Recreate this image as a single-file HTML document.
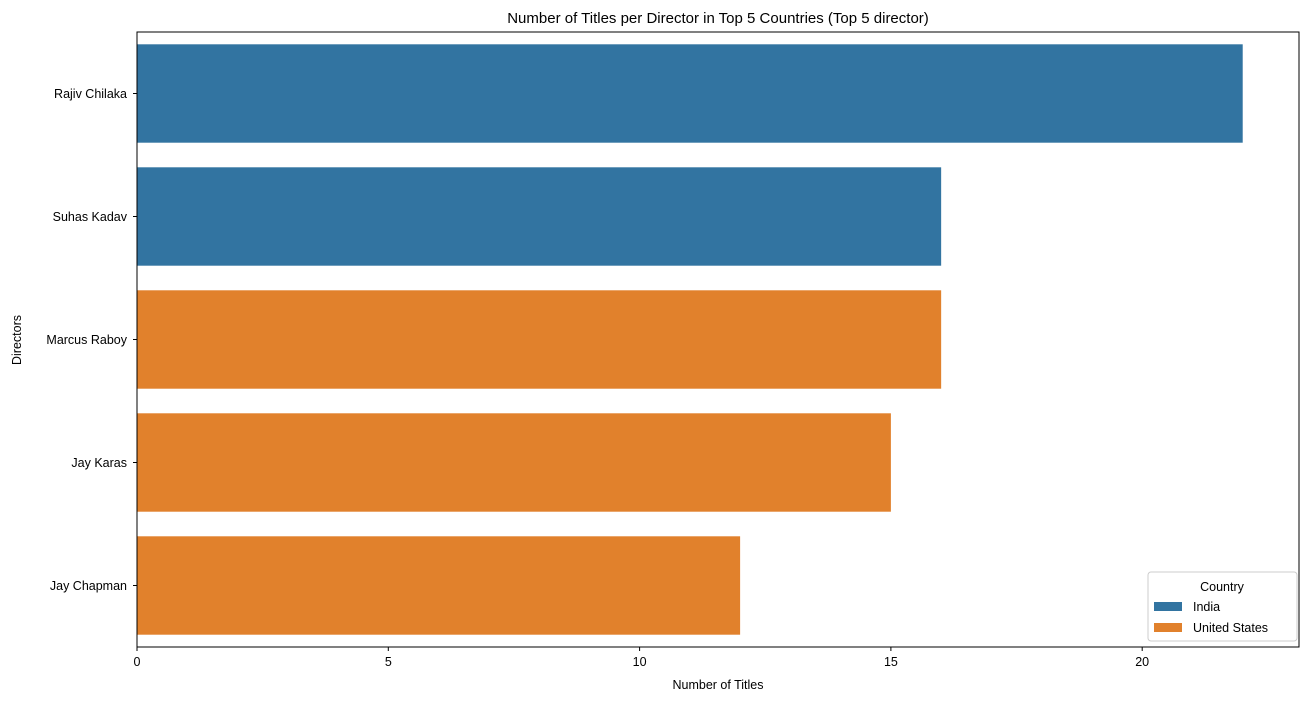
<!DOCTYPE html>
<html><head><meta charset="utf-8"><style>
body{margin:0;background:#fff;}
svg text{font-family:"Liberation Sans","DejaVu Sans",sans-serif;fill:#000;}
</style></head><body>
<svg id="chart" width="1309" height="701" xmlns="http://www.w3.org/2000/svg">
<text x="718" y="23" font-size="15" text-anchor="middle">Number of Titles per Director in Top 5 Countries (Top 5 director)</text>
<g id="bars"></g>
<g id="axes"></g>
<text x="718" y="689" font-size="12.5" text-anchor="middle">Number of Titles</text>
<text x="21" y="340" font-size="12.5" text-anchor="middle" transform="rotate(-90 21 340)">Directors</text>
<g>
<rect x="1148" y="572" width="149" height="69" rx="3" fill="#fff" fill-opacity="0.8" stroke="#ccc"/>
<text x="1222" y="591" font-size="12.5" text-anchor="middle">Country</text>
<g><rect x="1154" y="602" width="28" height="9" fill="#3274a1"/><text x="1193" y="611" font-size="12.5">India</text></g>
<g><rect x="1154" y="623" width="28" height="9" fill="#e1812c"/><text x="1193" y="632" font-size="12.5">United States</text></g>
</g>
</svg>
<script>
const directors=["Rajiv Chilaka","Suhas Kadav","Marcus Raboy","Jay Karas","Jay Chapman"];
const titleCounts=[22,16,16,15,12];
const countries=["India","India","United States","United States","United States"];
const xTicks=[0,5,10,15,20];
const colors={"India":"#3274a1","United States":"#e1812c"};
const L=137,R=1299,T=32,B=647,xMax=23.12;
const xs=v=>L+v/xMax*(R-L);
const band=(B-T)/directors.length;
const ns="http://www.w3.org/2000/svg";
const bars=document.getElementById('bars'),axes=document.getElementById('axes');
function mk(tag,attrs,parent){const e=document.createElementNS(ns,tag);for(const k in attrs)e.setAttribute(k,attrs[k]);parent.appendChild(e);return e;}
directors.forEach((d,i)=>{
 const y=T+band*i+band*0.1;
 const r=mk('rect',{x:xs(0),y:y,width:xs(titleCounts[i])-xs(0),height:band*0.8,fill:colors[countries[i]]},bars);
 
 
 const cy=T+band*(i+0.5);
 mk('line',{x1:L-4,x2:L,y1:cy,y2:cy,stroke:'#000'},axes);
 const t=mk('text',{x:L-10,y:cy+4.5,'font-size':12.5,'text-anchor':'end'},axes);
 t.textContent=d;
 
 
});
xTicks.forEach(v=>{
 const x=xs(v);
 mk('line',{x1:x,x2:x,y1:B,y2:B+4,stroke:'#000'},axes);
 const t=mk('text',{x:x,y:B+19,'font-size':12.5,'text-anchor':'middle'},axes);
 t.textContent=v;
 
 
});
const frame=mk('rect',{x:L,y:T,width:R-L,height:B-T,fill:'none',stroke:'#000','stroke-width':1},axes);


</script>
</body></html>
